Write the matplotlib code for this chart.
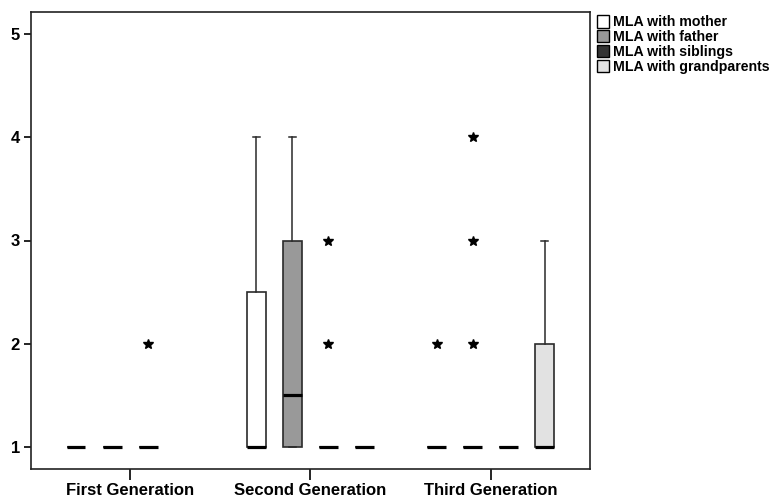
import matplotlib
matplotlib.use("Agg")
import matplotlib.pyplot as plt
from matplotlib.patches import Patch

plt.rcParams['font.family'] = ['Liberation Sans', 'DejaVu Sans']

generations = ["First Generation", "Second Generation", "Third Generation"]
series = ["MLA with mother", "MLA with father", "MLA with siblings", "MLA with grandparents"]
colors = ["#ffffff", "#999999", "#333333", "#e2e2e2"]

# per series: list over generations of (whislo, q1, median, q3, whishi, fliers); None = no data
mother = [(1, 1, 1, 1, 1, []), (1, 1, 1, 2.5, 4, []), (1, 1, 1, 1, 1, [2])]
father = [(1, 1, 1, 1, 1, []), (1, 1, 1.5, 3, 4, []), (1, 1, 1, 1, 1, [2, 3, 4])]
siblings = [(1, 1, 1, 1, 1, [2]), (1, 1, 1, 1, 1, [2, 3]), (1, 1, 1, 1, 1, [])]
grandparents = [None, (1, 1, 1, 1, 1, []), (1, 1, 1, 2, 3, [])]
all_series = [mother, father, siblings, grandparents]
offsets = [-0.3, -0.1, 0.1, 0.3]

fig = plt.figure(figsize=(7.74, 5.0), dpi=100)
ax = fig.add_axes([0.040, 0.062, 0.722, 0.914])

for s_idx, (data, col) in enumerate(zip(all_series, colors)):
    stats, pos = [], []
    for g_idx, d in enumerate(data):
        if d is None:
            continue
        wl, q1, med, q3, wh, fl = d
        stats.append(dict(whislo=wl, q1=q1, med=med, q3=q3, whishi=wh, fliers=fl))
        pos.append(g_idx + offsets[s_idx])
    ax.bxp(stats, positions=pos, widths=0.105, patch_artist=True, showfliers=True,
           capwidths=0.04, manage_ticks=False,
           boxprops=dict(facecolor=col, edgecolor="#2a2a2a", linewidth=1.2),
           medianprops=dict(color="black", linewidth=2.3, solid_capstyle="butt"),
           whiskerprops=dict(color="#2a2a2a", linewidth=1.1),
           capprops=dict(color="#2a2a2a", linewidth=1.1),
           flierprops=dict(marker="*", markersize=7, markerfacecolor="black",
                           markeredgecolor="black", linestyle="none"))

ax.set_xlim(-0.55, 2.55)
ax.set_ylim(0.787, 5.213)
ax.set_xticks(range(len(generations)))
ax.set_xticklabels(generations, fontsize=12, fontweight="bold")
ax.set_yticks([1, 2, 3, 4, 5])
ax.set_yticklabels(["1", "2", "3", "4", "5"], fontsize=12, fontweight="bold")
ax.tick_params(axis="y", length=5, width=1.2, pad=3)
ax.tick_params(axis="x", length=8, width=1.2, pad=2)
for sp in ax.spines.values():
    sp.set_linewidth(1.2)
    sp.set_color("#222222")

handles = [Patch(facecolor=c, edgecolor="black", linewidth=1) for c in colors]
fig.legend(handles, series, loc="upper left", bbox_to_anchor=(0.768, 0.976),
           frameon=False, prop=dict(weight="bold", size=10.2),
           handlelength=0.8, handleheight=1.0, labelspacing=0.05,
           handletextpad=0.3, borderaxespad=0, borderpad=0.2)

fig.savefig("out.png", dpi=100)
